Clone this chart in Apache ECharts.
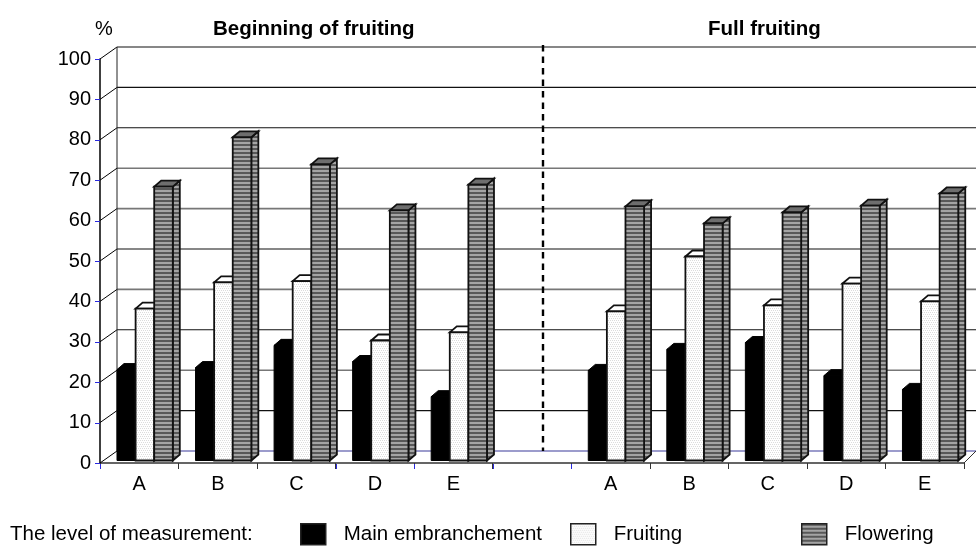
<!DOCTYPE html>
<html><head><meta charset="utf-8">
<style>html,body{margin:0;padding:0;background:#fff}#c{width:976px;height:546px}</style>
<script src="https://cdn.jsdelivr.net/npm/echarts@6/dist/echarts.min.js"></script>
</head><body><div id="c"></div>
<script>
const categories = ['A','B','C','D','E','','A','B','C','D','E'];
const yTicks = [0,10,20,30,40,50,60,70,80,90,100];
const mainEmbranchement = [22.5,23,28.5,24.5,15.8,null,22.3,27.5,29.2,21,17.6];
const fruiting = [37.6,44.1,44.4,29.7,31.7,null,36.9,50.5,38.4,43.8,39.4];
const flowering = [67.8,80,73.3,61.9,68.3,null,62.9,58.7,61.4,63.1,66.1];

const FONT = '"Liberation Sans", Arial, sans-serif';
function pattern(w, h, draw) {
  const c = document.createElement('canvas'); c.width = w; c.height = h;
  draw(c.getContext('2d'));
  return {image: c, repeat: 'repeat'};
}
const stripes = pattern(4, 4, g => {
  g.fillStyle = '#585858'; g.fillRect(0,0,4,4);
  g.fillStyle = '#a4a4a4'; g.fillRect(0,2,4,2);
});
const dots = pattern(4, 4, g => {
  g.fillStyle = '#fff'; g.fillRect(0,0,4,4);
  g.fillStyle = '#dcdcdc';
  [[0,0],[2,0],[1,2],[3,2]].forEach(p => g.fillRect(p[0],p[1],1,1));
});

const BACK_X = 17, BACK_Y = 12, DEPTH_X = 7, DEPTH_Y = 6, LIFT = 2.5, BAR_W = 18.6;

const seriesLook = [
  {name:'Main embranchement', values:mainEmbranchement, front:'#000', side:'#000', top:'#000', stroke:'#000', lw:1},
  {name:'Fruiting', values:fruiting, front:dots, side:'#fff', top:'#fff', stroke:'#111', lw:1.8},
  {name:'Flowering', values:flowering, front:stripes, side:stripes, top:'#6e6e6e', stroke:'#111', lw:1.8}
];

function barRender(slot, look) {
  return function (params, api) {
    const cat = api.value(0), v = api.value(1);
    if (v == null || isNaN(v)) return;
    const step = api.size([1,0])[0];
    const c0 = api.coord([cat, 0]), c1 = api.coord([cat, v]);
    const x = c0[0] - step/2 + BACK_X + slot*BAR_W;
    const yb = c0[1] - LIFT, yt = c1[1] - LIFT;
    const st = {stroke: look.stroke, lineWidth: look.lw, lineJoin:'miter'};
    return {type:'group', children:[
      {type:'polygon', shape:{points:[[x+BAR_W,yt],[x+BAR_W+DEPTH_X,yt-DEPTH_Y],[x+BAR_W+DEPTH_X,yb-DEPTH_Y],[x+BAR_W,yb]]},
        style:Object.assign({fill:look.side}, st)},
      {type:'polygon', shape:{points:[[x,yt],[x+DEPTH_X,yt-DEPTH_Y],[x+BAR_W+DEPTH_X,yt-DEPTH_Y],[x+BAR_W,yt]]},
        style:Object.assign({fill:look.top}, st)},
      {type:'rect', shape:{x:x,y:yt,width:BAR_W,height:yb-yt},
        style:Object.assign({fill:look.front}, st)}
    ]};
  };
}

const softLines = {70:1,60:1,40:1,20:1};
function frameRender(params, api) {
  const v = api.value(0);
  const cs = params.coordSys;
  const y = api.coord([0, v])[1];
  const kids = [];
  const isSoft = softLines[v];
  kids.push({type:'line', shape:{x1:cs.x, y1:y, x2:cs.x+BACK_X, y2:y-BACK_Y}, style:{stroke:'#000', lineWidth:1}});
  kids.push({type:'line', shape:{x1:cs.x+BACK_X, y1:y-BACK_Y, x2:976, y2:y-BACK_Y},
    style:{stroke: v===0 ? '#3a3a9a' : (isSoft ? '#777' : '#111'), lineWidth: isSoft ? 1.6 : 1.1}});
  if (v === 100) {
    const y0 = api.coord([0,0])[1];
    kids.push({type:'line', shape:{x1:cs.x+BACK_X, y1:y-BACK_Y, x2:cs.x+BACK_X, y2:y0-BACK_Y}, style:{stroke:'#222', lineWidth:1}});
    const xd = api.coord([5,0])[0] + 11;
    kids.push({type:'line', shape:{x1:xd, y1:y-BACK_Y-2, x2:xd, y2:y0-BACK_Y}, style:{stroke:'#000', lineWidth:2.4, lineDash:[6.5,5]}});
    const xr = cs.x + cs.width;
    kids.push({type:'line', shape:{x1:xr, y1:y0, x2:976, y2:y0-BACK_Y}, style:{stroke:'#333', lineWidth:1}});
  }
  return {type:'group', children:kids};
}

const blueTicks = [0,3,4,5,6];
function tickRender(params, api) {
  const i = api.value(0);
  const step = api.size([1,0])[0];
  const c = api.coord([i,0]);
  const x = Math.round(c[0]-step/2)+0.5;
  return {type:'line', shape:{x1:x,y1:c[1]+1,x2:x,y2:c[1]+6}, style:{stroke:'#2a2ae0', lineWidth:1}};
}
function yTickRender(params, api) {
  const c = api.coord([0, api.value(0)]);
  const y = Math.round(c[1])+0.5;
  return {type:'line', shape:{x1:params.coordSys.x-5,y1:y,x2:params.coordSys.x,y2:y}, style:{stroke:'#2a2ae0', lineWidth:1}};
}

const series = [
  {type:'custom', silent:true, clip:false, z:1, coordinateSystem:'cartesian2d',
   encode:{y:0}, data: yTicks.map(v=>[v]), renderItem:frameRender},
  {type:'custom', silent:true, clip:false, z:5, coordinateSystem:'cartesian2d',
   encode:{y:0}, data: yTicks.map(v=>[v]), renderItem:yTickRender},
  {type:'custom', silent:true, clip:false, z:5, coordinateSystem:'cartesian2d',
   encode:{x:0}, data: blueTicks.map(v=>[v]), renderItem:tickRender}
];
seriesLook.forEach((look, i) => series.push({
  type:'custom', name:look.name, silent:true, clip:false, z:3, coordinateSystem:'cartesian2d',
  encode:{x:0,y:1},
  itemStyle:{color: i===0?'#000':(i===1?'#eee':'#777')},
  data: look.values.map((v,k)=>[k,v]).filter(d=>d[1]!=null),
  renderItem: barRender(i, look)
}));

function legendFor(look, left) {
  return {show:true, left:left, top:523, padding:0, orient:'horizontal', selectedMode:false, itemWidth:25, itemHeight:21,
    data:[{name:look.name, icon:'rect', itemStyle:{color:look.front, borderColor:'#222', borderWidth:1.5}}],
    textStyle:{fontFamily:FONT, fontSize:20.5, color:'#000', padding:[0,0,0,13]}};
}

const chart = echarts.init(document.getElementById('c'), null, {renderer:'canvas'});
chart.setOption({
  animation:false,
  backgroundColor:'#fff',
  grid:{left:100, right:12, top:59, bottom:83, containLabel:false},
  xAxis:{type:'category', data:categories, boundaryGap:true,
    axisLine:{show:true, lineStyle:{color:'#333', width:1.5}},
    axisTick:{show:true, length:6, alignWithLabel:false, lineStyle:{color:'#333'}},
    axisLabel:{show:true, interval:0, color:'#000', fontFamily:FONT, fontSize:20, margin:11},
    splitLine:{show:false}},
  yAxis:{type:'value', min:0, max:100, interval:10,
    axisLine:{show:true, onZero:false, lineStyle:{color:'#000', width:1.5}},
    axisTick:{show:false},
    axisLabel:{color:'#000', fontFamily:FONT, fontSize:20, margin:9},
    splitLine:{show:false}},
  legend: [legendFor(seriesLook[0],300), legendFor(seriesLook[1],570), legendFor(seriesLook[2],801)],
  graphic:[
    {type:'text', left:95, top:19, style:{text:'%', font:'20px '+FONT, fill:'#000'}},
    {type:'text', left:213, top:19, style:{text:'Beginning of fruiting', font:'bold 20.5px '+FONT, fill:'#000'}},
    {type:'text', left:708, top:19, style:{text:'Full fruiting', font:'bold 20.5px '+FONT, fill:'#000'}},
    {type:'text', left:10, top:524, style:{text:'The level of measurement:', font:'20.5px '+FONT, fill:'#000'}}
  ],
  series:series
});
</script></body></html>
